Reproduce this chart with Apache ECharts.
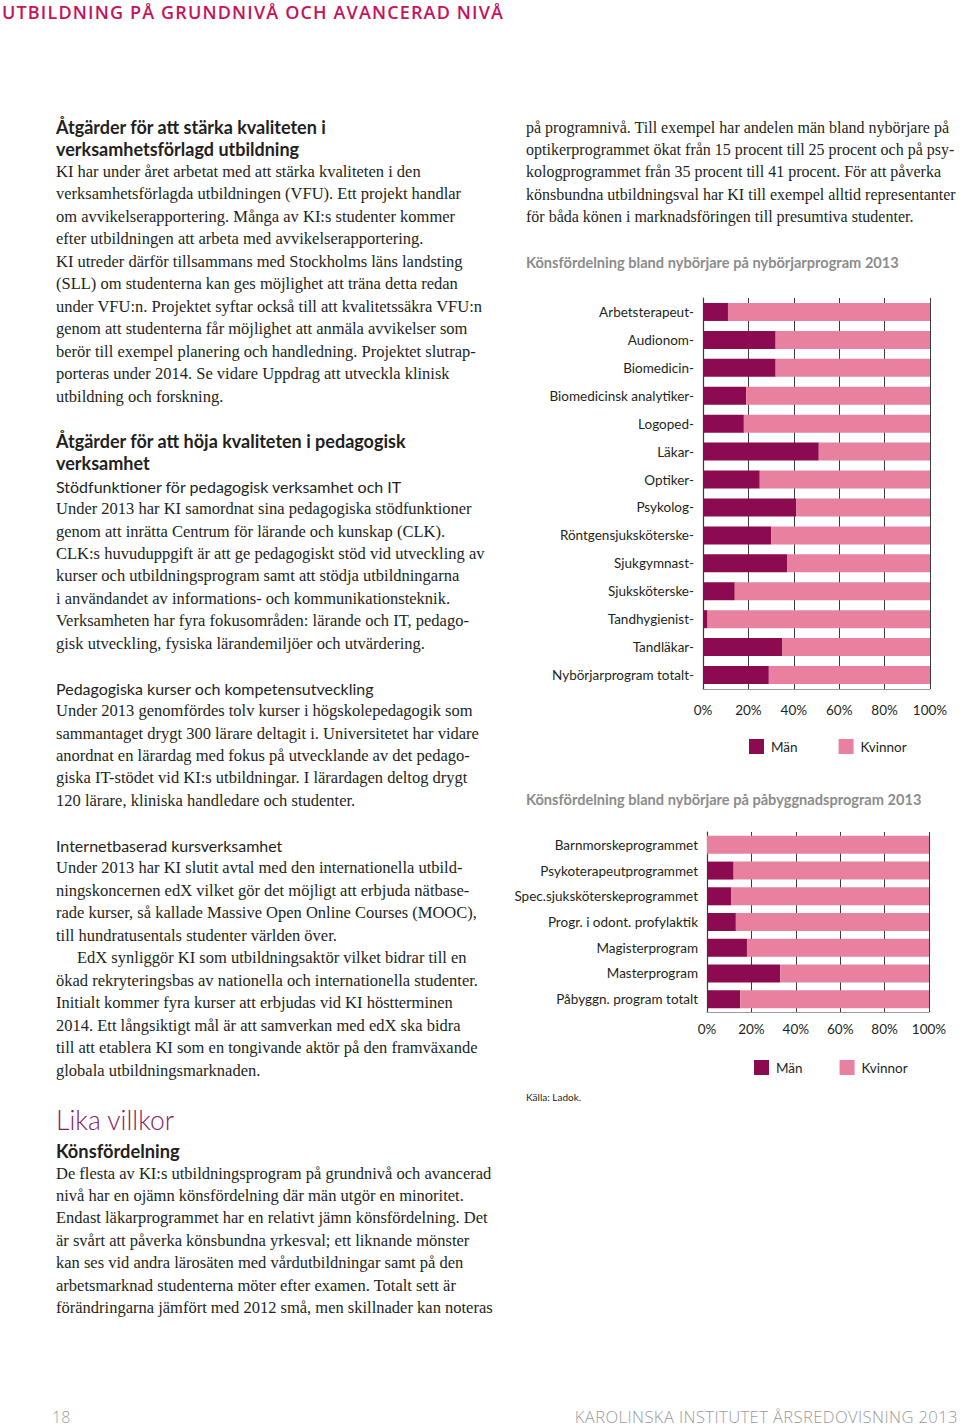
<!DOCTYPE html>
<html><head><meta charset="utf-8">
<script src="https://cdn.jsdelivr.net/npm/echarts@6/dist/echarts.min.js"></script>
<style>
html,body{margin:0;padding:0;background:#fff;}
#page{position:relative;width:960px;height:1427px;overflow:hidden;}
#chart{position:absolute;left:0;top:0;width:960px;height:1427px;}
.ln{position:absolute;white-space:nowrap;line-height:22px;height:22px;}
.serif{font-family:"Liberation Serif",serif;font-size:16.5px;color:#231f20;}
.serifR{font-family:"Liberation Serif",serif;font-size:16px;color:#231f20;}
.h{font-family:Lato,"Open Sans",sans-serif;font-weight:700;font-size:18px;color:#231f20;}
.s{font-family:Lato,"Open Sans",sans-serif;font-size:16px;color:#231f20;}
.ct{font-family:Lato,"Open Sans",sans-serif;font-size:14.6px;color:#8c8c8c;font-weight:700;}
</style></head>
<body><div id="page"><div id="chart"></div></div>
<script>
// ---- chart data ----
const programs1 = ["Arbetsterapeut","Audionom","Biomedicin","Biomedicinsk analytiker","Logoped","Läkar","Optiker","Psykolog","Röntgensjuksköterske","Sjukgymnast","Sjuksköterske","Tandhygienist","Tandläkar","Nybörjarprogram totalt"];
const men1   = [11,32,32,19,18,51,25,41,30,37,14,2,35,29];
const women1 = [89,68,68,81,82,49,75,59,70,63,86,98,65,71];
const programs2 = ["Barnmorskeprogrammet","Psykoterapeutprogrammet","Spec.sjuksköterskeprogrammet","Progr. i odont. profylaktik","Magisterprogram","Masterprogram","Påbyggn. program totalt"];
const men2   = [0,12,11,13,18,33,15];
const women2 = [100,88,89,87,82,67,85];
const seriesNames = ["Män","Kvinnor"];
const title1 = "Könsfördelning bland nybörjare på nybörjarprogram 2013";
const title2 = "Könsfördelning bland nybörjare på påbyggnadsprogram 2013";
const source = "Källa: Ladok.";

// ---- page text ----
const L = 56, R = 526;
const lines = [
 [2,12,"UTBILDNING PÅ GRUNDNIVÅ OCH AVANCERAD NIVÅ","hdr"],
 [L,127,"Åtgärder för att stärka kvaliteten i","h"],
 [L,149,"verksamhetsförlagd utbildning","h"],
 [L,172,"KI har under året arbetat med att stärka kvaliteten i den","serif"],
 [L,194,"verksamhetsförlagda utbildningen (VFU). Ett projekt handlar","serif"],
 [L,217,"om avvikelserapportering. Många av KI:s studenter kommer","serif"],
 [L,239,"efter utbildningen att arbeta med avvikelserapportering.","serif"],
 [L,262,"KI utreder därför tillsammans med Stockholms läns landsting","serif"],
 [L,284,"(SLL) om studenterna kan ges möjlighet att träna detta redan","serif"],
 [L,307,"under VFU:n. Projektet syftar också till att kvalitetssäkra VFU:n","serif"],
 [L,329,"genom att studenterna får möjlighet att anmäla avvikelser som","serif"],
 [L,352,"berör till exempel planering och handledning. Projektet slutrap-","serif"],
 [L,374,"porteras under 2014. Se vidare Uppdrag att utveckla klinisk","serif"],
 [L,397,"utbildning och forskning.","serif"],
 [L,441,"Åtgärder för att höja kvaliteten i pedagogisk","h"],
 [L,463,"verksamhet","h"],
 [L,487,"Stödfunktioner för pedagogisk verksamhet och IT","s"],
 [L,509,"Under 2013 har KI samordnat sina pedagogiska stödfunktioner","serif"],
 [L,532,"genom att inrätta Centrum för lärande och kunskap (CLK).","serif"],
 [L,554,"CLK:s huvuduppgift är att ge pedagogiskt stöd vid utveckling av","serif"],
 [L,576,"kurser och utbildningsprogram samt att stödja utbildningarna","serif"],
 [L,599,"i användandet av informations- och kommunikationsteknik.","serif"],
 [L,621,"Verksamheten har fyra fokusområden: lärande och IT, pedago-","serif"],
 [L,644,"gisk utveckling, fysiska lärandemiljöer och utvärdering.","serif"],
 [L,689,"Pedagogiska kurser och kompetensutveckling","s"],
 [L,711,"Under 2013 genomfördes tolv kurser i högskolepedagogik som","serif"],
 [L,734,"sammantaget drygt 300 lärare deltagit i. Universitetet har vidare","serif"],
 [L,756,"anordnat en lärardag med fokus på utvecklande av det pedago-","serif"],
 [L,778,"giska IT-stödet vid KI:s utbildningar. I lärardagen deltog drygt","serif"],
 [L,801,"120 lärare, kliniska handledare och studenter.","serif"],
 [L,846,"Internetbaserad kursverksamhet","s"],
 [L,868,"Under 2013 har KI slutit avtal med den internationella utbild-","serif"],
 [L,891,"ningskoncernen edX vilket gör det möjligt att erbjuda nätbase-","serif"],
 [L,913,"rade kurser, så kallade Massive Open Online Courses (MOOC),","serif"],
 [L,936,"till hundratusentals studenter världen över.","serif"],
 [77,958,"EdX synliggör KI som utbildningsaktör vilket bidrar till en","serif"],
 [L,981,"ökad rekryteringsbas av nationella och internationella studenter.","serif"],
 [L,1003,"Initialt kommer fyra kurser att erbjudas vid KI höstterminen","serif"],
 [L,1026,"2014. Ett långsiktigt mål är att samverkan med edX ska bidra","serif"],
 [L,1048,"till att etablera KI som en tongivande aktör på den framväxande","serif"],
 [L,1071,"globala utbildningsmarknaden.","serif"],
 [L,1120,"Lika villkor","lika"],
 [L,1151,"Könsfördelning","kf"],
 [L,1174,"De flesta av KI:s utbildningsprogram på grundnivå och avancerad","serif"],
 [L,1196,"nivå har en ojämn könsfördelning där män utgör en minoritet.","serif"],
 [L,1218,"Endast läkarprogrammet har en relativt jämn könsfördelning. Det","serif"],
 [L,1241,"är svårt att påverka könsbundna yrkesval; ett liknande mönster","serif"],
 [L,1263,"kan ses vid andra lärosäten med vårdutbildningar samt på den","serif"],
 [L,1286,"arbetsmarknad studenterna möter efter examen. Totalt sett är","serif"],
 [L,1308,"förändringarna jämfört med 2012 små, men skillnader kan noteras","serif"],
 [R,128,"på programnivå. Till exempel har andelen män bland nybörjare på","serifR"],
 [R,150,"optikerprogrammet ökat från 15 procent till 25 procent och på psy-","serifR"],
 [R,172,"kologprogrammet från 35 procent till 41 procent. För att påverka","serifR"],
 [R,195,"könsbundna utbildningsval har KI till exempel alltid representanter","serifR"],
 [R,217,"för båda könen i marknadsföringen till presumtiva studenter.","serifR"],
 [R,263,title1,"ct"],
 [R,800,title2,"ct"],
 [R,1097,source,"src"],
 [52,1417,"18","pg"],
 [958,1417,"KAROLINSKA INSTITUTET ÅRSREDOVISNING 2013","ft"]
];
const page = document.getElementById('page');
const extra = {
  hdr:"font-family:'Open Sans',sans-serif;font-weight:600;font-size:18px;letter-spacing:1.15px;color:#c8125a;",
  lika:"font-family:Lato,'Open Sans',sans-serif;font-weight:300;font-size:26.5px;color:#8b1a5c;line-height:30px;height:30px;",
  kf:"font-family:Lato,'Open Sans',sans-serif;font-weight:700;font-size:18.3px;color:#231f20;",
  src:"font-family:Lato,'Open Sans',sans-serif;font-size:10px;color:#231f20;",
  pg:"font-family:'Open Sans',sans-serif;font-weight:300;font-size:16px;color:#9a9a9a;",
  ft:"font-family:'Open Sans',sans-serif;font-weight:300;font-size:16.6px;color:#9a9a9a;letter-spacing:0.4px;"
};
const classed = ['serif','serifR','h','s','ct'];
lines.forEach(([x,y,t,c])=>{
  const d=document.createElement('div');
  d.className='ln '+(classed.includes(c)?c:'');
  d.textContent=t;
  const lh = c==='lika'?30:22;
  d.style.cssText = (extra[c]||'') + 'top:'+(y-lh/2)+'px;' + (c==='ft' ? 'right:'+(960-x)+'px;' : 'left:'+x+'px;');
  page.appendChild(d);
});

// ---- charts ----
const MEN_C = '#8b0a50', WOMEN_C = '#e8819f';
const chart = echarts.init(document.getElementById('chart'), null, {renderer:'svg'});
const labelFont = {fontFamily:"Lato,'Open Sans',sans-serif", fontSize:13.5, color:'#231f20'};
function xAx(gi, margin){
  return {gridIndex:gi, type:'value', min:0, max:100, interval:20,
    axisLine:{show:true, lineStyle:{color:'#9a9a9a', width:1}},
    axisTick:{show:false},
    splitLine:{show:true, lineStyle:{color:'#3a3a3a', width:1}},
    axisLabel:Object.assign({formatter:'{value}%', margin}, labelFont)};
}
function yAx(gi, cats, dash){
  return {gridIndex:gi, type:'category', data:cats, inverse:true,
    axisLine:{show:true, lineStyle:{color:'#3a3a3a', width:1.2}},
    axisTick:{show:false},
    axisLabel:Object.assign({margin:9, formatter: v => dash ? v+'-' : v}, labelFont)};
}
function barS(name, data, gi, color){
  return {name, type:'bar', stack:'s'+gi, xAxisIndex:gi, yAxisIndex:gi, data,
    barWidth:18, itemStyle:{color}, emphasis:{disabled:true}};
}
chart.setOption({
  animation:false,
  grid:[
    {left:703, top:298, width:227, height:391},
    {left:707, top:832, width:222, height:180}
  ],
  xAxis:[xAx(0, 14), xAx(1, 10)],
  yAxis:[yAx(0, programs1, true), yAx(1, programs2, false)],
  legend:[
    {data:seriesNames, left:744, top:734, icon:'rect', itemWidth:15, itemHeight:15, itemGap:41,
     textStyle:Object.assign({}, labelFont, {padding:[0,0,0,2]})},
    {data:seriesNames, left:749, top:1055, icon:'rect', itemWidth:15, itemHeight:15, itemGap:37,
     textStyle:Object.assign({}, labelFont, {padding:[0,0,0,2]})}
  ],
  series:[
    barS(seriesNames[0], men1, 0, MEN_C),
    barS(seriesNames[1], women1, 0, WOMEN_C),
    barS(seriesNames[0], men2, 1, MEN_C),
    barS(seriesNames[1], women2, 1, WOMEN_C)
  ]
});
</script></body></html>
